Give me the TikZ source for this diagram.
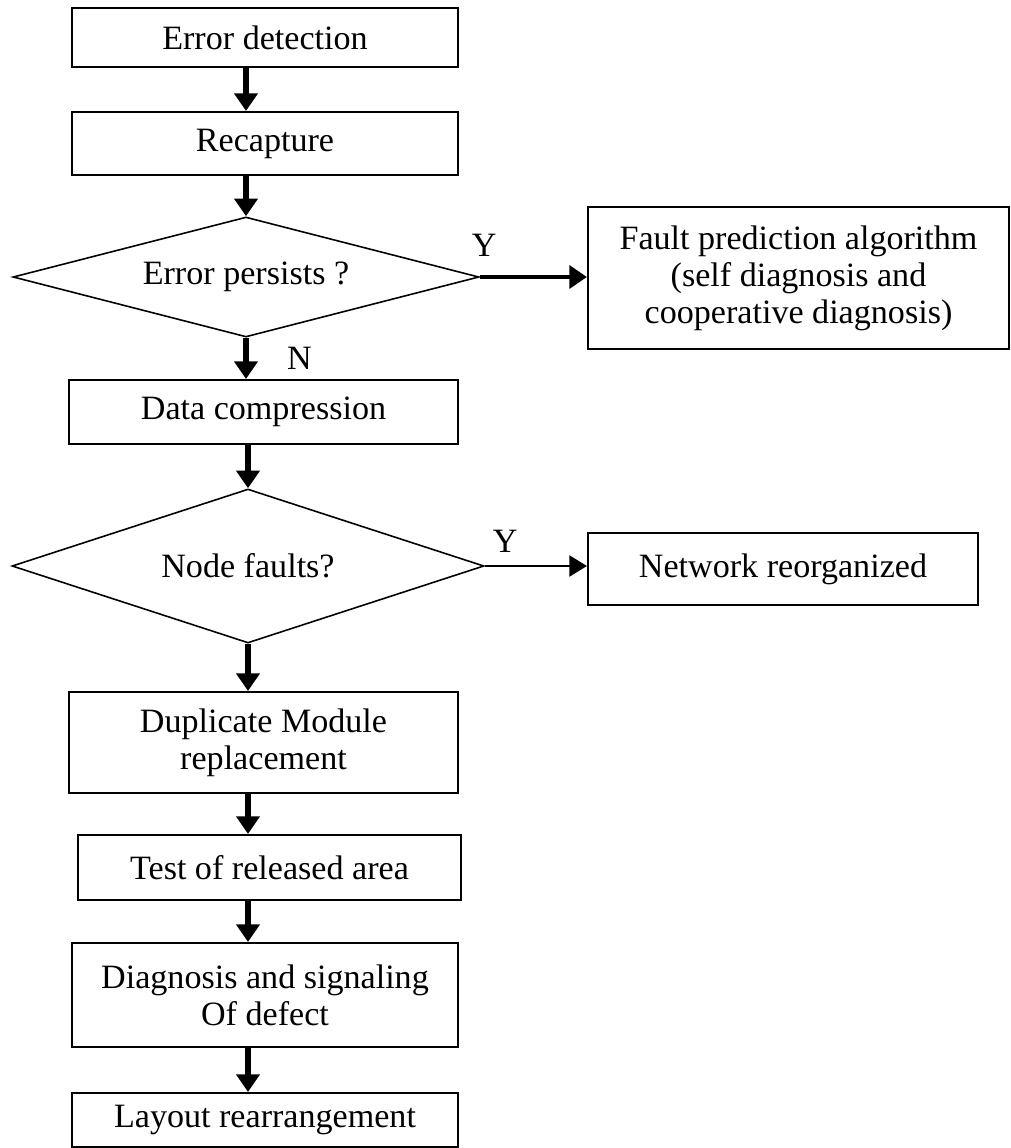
\documentclass[tikz,border=0pt]{standalone}
\usepackage{fontspec}
\setmainfont{Liberation Serif}
\usetikzlibrary{arrows.meta, positioning, calc, shapes.geometric}

\begin{document}
\begin{tikzpicture}[
    font=\fontsize{9.7}{10.5}\selectfont,
    proc_box/.style={
        draw=black,
        line width=0.6pt,
        fill=white,
        align=center,
        inner sep=0pt
    },
    decision/.style={
        diamond,
        aspect=4,
        draw=black,
        line width=0.45pt,
        align=center,
        inner sep=0pt
    },
    arrow_line/.style={
        -{Triangle[width=6.5pt, length=5pt]},
        line width=1.5pt,
        color=black
    },
    yes_line/.style={
        -{Triangle[width=6.5pt, length=5pt]},
        line width=1.1pt,
        color=black
    },
    thin_line/.style={
        -{Triangle[width=6pt, length=5pt]},
        line width=0.6pt,
        color=black
    },
    yn_label/.style={
        inner sep=1pt
    }
]

\useasboundingbox (0,0) rectangle (10.11,-11.48);

% =========================
% FIRST CHECK
% =========================
\node[proc_box, minimum width=3.86cm, minimum height=0.59cm]
    (err) at (2.65,-0.375) {Error detection};
\node[proc_box, minimum width=3.86cm, minimum height=0.63cm]
    (recap) at (2.65,-1.435) {Recapture};
\node[decision, minimum width=4.66cm, minimum height=1.20cm]
    (persist) at (2.46,-2.77) {Error persists ?};
\node[proc_box, minimum width=4.21cm, minimum height=1.42cm]
    (fault) at (7.985,-2.78)
    {Fault prediction algorithm\\(self diagnosis and\\cooperative diagnosis)};

% =========================
% SECOND CHECK
% =========================
\node[proc_box, minimum width=3.89cm, minimum height=0.64cm]
    (dcomp) at (2.635,-4.12) {Data compression};
\node[decision, minimum width=4.72cm, minimum height=1.54cm]
    (nfault) at (2.48,-5.66) {Node faults?};
\node[proc_box, minimum width=3.90cm, minimum height=0.72cm]
    (netw) at (7.83,-5.69) {Network reorganized};

% =========================
% REPAIR
% =========================
\node[proc_box, minimum width=3.89cm, minimum height=1.01cm]
    (dup) at (2.635,-7.425) {Duplicate Module\\replacement};
\node[proc_box, minimum width=3.83cm, minimum height=0.65cm]
    (test) at (2.695,-8.675) {Test of released area};
\node[proc_box, minimum width=3.86cm, minimum height=1.04cm]
    (diag) at (2.65,-9.95) {Diagnosis and signaling\\Of defect};
\node[proc_box, minimum width=3.86cm, minimum height=0.54cm]
    (layout) at (2.65,-11.20) {Layout rearrangement};

% =========================
% ARROWS
% =========================
\draw[arrow_line] (err.south -| persist.north) -- (recap.north -| persist.north);
\draw[arrow_line] (recap.south -| persist.north) -- (persist.north);
\draw[yes_line] (persist.east) -- (fault.west |- persist.east)
    node[yn_label, pos=0.04, above=0.15cm] {Y};
\draw[arrow_line] (persist.south) -- (dcomp.north -| persist.south)
    node[yn_label, midway, right=0.35cm] {N};
\draw[arrow_line] (dcomp.south -| nfault.north) -- (nfault.north);
\draw[thin_line] (nfault.east) -- (netw.west |- nfault.east)
    node[yn_label, pos=0.2, above=0.09cm] {Y};
\draw[arrow_line] (nfault.south) -- (dup.north -| nfault.south);
\draw[arrow_line] (dup.south -| nfault.south) -- (test.north -| nfault.south);
\draw[arrow_line] (test.south -| nfault.south) -- (diag.north -| nfault.south);
\draw[arrow_line] (diag.south -| nfault.south) -- (layout.north -| nfault.south);

\end{tikzpicture}
\end{document}
